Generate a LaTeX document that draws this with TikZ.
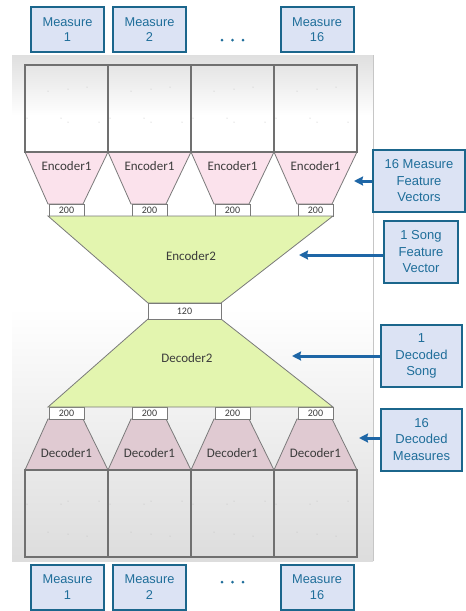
\documentclass[tikz,border=0pt]{standalone}
\usepackage{fontspec}
\setmainfont{Liberation Sans}
\newfontfamily\labelfont{Carlito}
\usetikzlibrary{arrows.meta,shadows}

\definecolor{boxfill}{HTML}{DCE3F4}
\definecolor{boxline}{HTML}{1B668C}
\definecolor{boxtext}{HTML}{1F6E9A}
\definecolor{arrowc}{HTML}{1E66A6}
\definecolor{encpink}{HTML}{FBE2EC}
\definecolor{decpink}{HTML}{E0CAD2}
\definecolor{latgreen}{HTML}{E3F5AF}
\definecolor{gridc}{HTML}{707070}
\definecolor{edgec}{HTML}{7A7A7A}
\definecolor{labelc}{HTML}{3C3C3C}

% grey at the top and bottom of the panel, white in the middle
\pgfdeclareverticalshading{panelshade}{100bp}{%
  color(0bp)=(gray!27); color(25bp)=(gray!27); color(50bp)=(white);
  color(69bp)=(white); color(75bp)=(gray!25); color(100bp)=(gray!25)}

\begin{document}
\begin{tikzpicture}[x=1pt,y=-1pt,
  measure/.style={draw=boxline, line width=2pt, fill=boxfill, text=boxtext,
    minimum width=73pt, minimum height=45pt, align=center, inner sep=0pt,
    font=\fontsize{12.8}{15.5}\selectfont},
  note/.style={measure, minimum height=62pt,
    font=\fontsize{13}{16.5}\selectfont,
    drop shadow={shadow xshift=1.2pt, shadow yshift=-1.2pt, opacity=0.25}},
  cell/.style={draw=gridc, line width=2.5pt, minimum width=83pt,
    minimum height=87pt, inner sep=0pt},
  dim/.style={draw=edgec, line width=0.8pt, fill=white, minimum width=35pt,
    minimum height=12pt, inner sep=0pt, text=labelc,
    font=\labelfont\fontsize{10}{10}\selectfont},
  stage/.style={text=labelc, inner sep=0pt,
    font=\labelfont\fontsize{13}{13}\selectfont},
  funnel/.style={draw=edgec, line width=0.8pt},
  pointer/.style={draw=arrowc, line width=3pt,
    -{Stealth[length=9pt,width=9pt,inset=1pt]}},
  dotmark/.style={circle, fill=boxtext, inner sep=0pt, minimum size=3pt},
  speck/.style={circle, fill=gray!55, inner sep=0pt, minimum size=1pt}
]
\useasboundingbox (0,0) rectangle (466,611);

% panel background
\path[shading=panelshade] (12,55) rectangle (373,561);
\draw[gray!45, line width=0.6pt] (373,55) -- (373,561);

% input and output measures
\node[measure] (in1) at (67.5,29.5) {Measure\\1};
\node[measure] (in2) at (149.5,29.5) {Measure\\2};
\node[measure] (in16) at (317,29.5) {Measure\\16};
\node[dotmark] (ida) at (222,40) {};
\node[dotmark] (idb) at (232.5,40) {};
\node[dotmark] (idc) at (243,40) {};

\node[measure] (out1) at (67.5,587) {Measure\\1};
\node[measure] (out2) at (149.5,587) {Measure\\2};
\node[measure] (out16) at (317,587) {Measure\\16};
\node[dotmark] (oda) at (222,582) {};
\node[dotmark] (odb) at (232.5,582) {};
\node[dotmark] (odc) at (243,582) {};

% per-measure encoders and decoders
\foreach \i in {1,...,4} {
  \pgfmathsetmacro{\L}{25+83*(\i-1)}
  \pgfmathsetmacro{\C}{\L+41.5}
  % piano-roll cells
  \node[cell] (top\i) at (\C,108.5) {};
  \node[cell] (bot\i) at (\C,513.5) {};
  \foreach \dx/\dy in {23/26,43/24,62/22,2/53,36/53,43/57,74/57}
    \node[speck] at (\L+\dx,65+\dy) {};
  \foreach \dx/\dy in {2/34,36/34,43/31,74/31,23/62,43/64,62/66}
    \node[speck] at (\L+\dx,470+\dy) {};
  % Encoder1
  \filldraw[funnel, fill=encpink] (\L,152) -- (\L+83,152) -- (\L+58,204)
    -- (\L+23,204) -- cycle;
  \node[stage] (enc\i) at (\C,166) {Encoder1};
  \node[dim] (ev\i) at (\C,210) {200};
  % Decoder1
  \filldraw[funnel, fill=decpink] (\L+23,419) -- (\L+58,419) -- (\L+83,470)
    -- (\L,470) -- cycle;
  \node[stage] (dec\i) at (\C,453) {Decoder1};
  \node[dim] (dv\i) at (\C,413) {200};
}

% song-level encoder and decoder
\filldraw[funnel, fill=latgreen] (48,216) -- (333,216) -- (221,303)
  -- (148,303) -- cycle;
\node[stage] (enc2) at (191,256) {Encoder2};
\filldraw[funnel, fill=latgreen] (148,319) -- (221,319) -- (333,407)
  -- (48,407) -- cycle;
\node[stage] (dec2) at (187,358) {Decoder2};
\node[dim, minimum width=73pt, minimum height=16pt] (code) at (184.5,311) {120};

% re-draw the top edge of the grids over the funnels
\foreach \i in {1,...,4} {
  \node[cell] at (top\i) {};
  \node[cell] at (bot\i) {};
}

% annotations
\node[note, minimum width=92pt] (n1) at (419,181) {16 Measure\\Feature\\Vectors};
\node[note, minimum width=74pt] (n2) at (421,252) {1 Song\\Feature\\Vector};
\node[note, minimum width=81pt] (n3) at (421.5,356) {1\\Decoded\\Song};
\node[note, minimum width=81pt] (n4) at (421.5,439.5) {16\\Decoded\\Measures};

\draw[pointer] (n1.west) -- ++(-18,0) coordinate (p1);
\draw[pointer] (n2.west |- 0,255) -- ++(-84,0) coordinate (p2);
\draw[pointer] (n3.west) -- ++(-88,0) coordinate (p3);
\draw[pointer] (n4.west |- 0,438) -- ++(-21,0) coordinate (p4);
\end{tikzpicture}
\end{document}
